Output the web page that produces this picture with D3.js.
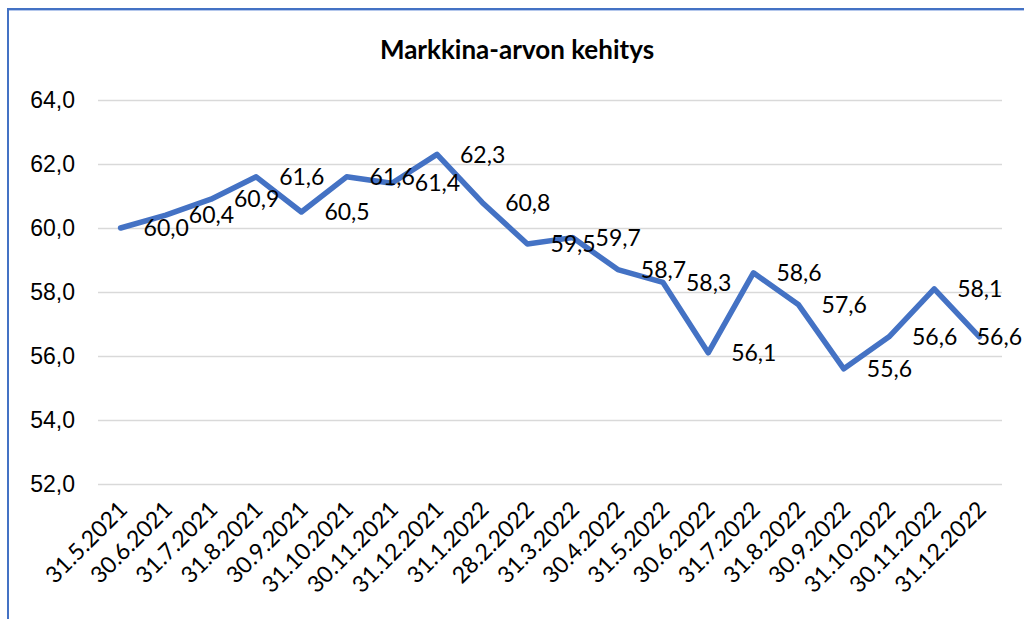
<!DOCTYPE html>
<html>
<head>
<meta charset="utf-8">
<script src="https://cdn.jsdelivr.net/npm/d3@7"></script>
<style>
  body { margin: 0; background: #fff; }
  svg { display: block; font-family: Lato, "Noto Sans", sans-serif; }
</style>
</head>
<body>
<div id="chart"></div>
<script>
    // data
    const dates = ['31.5.2021','30.6.2021','31.7.2021','31.8.2021','30.9.2021','31.10.2021',
      '30.11.2021','31.12.2021','31.1.2022','28.2.2022','31.3.2022','30.4.2022','31.5.2022',
      '30.6.2022','31.7.2022','31.8.2022','30.9.2022','31.10.2022','30.11.2022','31.12.2022'];
    const values = [60.0, 60.4, 60.9, 61.6, 60.5, 61.6, 61.4, 62.3, 60.8, 59.5,
      59.7, 58.7, 58.3, 56.1, 58.6, 57.6, 55.6, 56.6, 58.1, 56.6];
    const yTicks = [52, 54, 56, 58, 60, 62, 64];

    const width = 1024, height = 619;
    const plot = { left: 98, right: 1002, top: 100, bottom: 484 };

    const fi = d3.formatLocale({ decimal: ',', thousands: ' ', grouping: [3], currency: ['', '€'] });
    const fmt = fi.format('.1f');

    const x = d3.scaleBand()
      .domain(dates)
      .range([plot.left, plot.right]);

    const y = d3.scaleLinear()
      .domain([52, 64])
      .range([plot.bottom, plot.top]);

    const svg = d3.select('#chart').append('svg')
      .attr('width', width)
      .attr('height', height);

    // selection frame (top and left edges visible)
    svg.append('line')
      .attr('x1', 7).attr('x2', width).attr('y1', 9).attr('y2', 9)
      .style('stroke', '#4472c4').style('stroke-width', 2);
    svg.append('line')
      .attr('x1', 7).attr('x2', width).attr('y1', 10.5).attr('y2', 10.5)
      .style('stroke', '#b4c7ec').style('stroke-width', 1);
    svg.append('line')
      .attr('x1', 8).attr('x2', 8).attr('y1', 8).attr('y2', height)
      .style('stroke', '#4472c4').style('stroke-width', 2);

    svg.append('text')
      .attr('x', 517).attr('y', 59)
      .attr('text-anchor', 'middle')
      .style('font-weight', 'bold')
      .style('font-size', '26px')
      .style('fill', '#000')
      .text('Markkina-arvon kehitys');

    // gridlines + y labels
    const yAxis = svg.append('g')
      .attr('transform', `translate(${plot.left},0)`)
      .call(d3.axisLeft(y).tickValues(yTicks).tickFormat(fmt)
        .tickSize(-(plot.right - plot.left)).tickPadding(23));
    yAxis.select('.domain').remove();
    yAxis.selectAll('.tick line')
      .style('stroke', '#d9d9d9').style('stroke-width', 1.5);
    yAxis.selectAll('.tick text')
      .style('font-size', '23px').style('fill', '#000').style('font-family', null);

    // x labels
    const xg = svg.append('g');
    xg.selectAll('text')
      .data(dates)
      .enter().append('text')
      .attr('transform', d => `translate(${x(d) + x.bandwidth() / 2 + 8},${plot.bottom + 27}) rotate(-45)`)
      .attr('text-anchor', 'end')
      .style('font-size', '23px')
      .style('fill', '#000')
      .text(d => d);

    const line = d3.line()
      .x((d, i) => x(dates[i]) + x.bandwidth() / 2)
      .y(d => y(d));

    svg.append('path')
      .datum(values)
      .attr('d', line)
      .style('fill', 'none')
      .style('stroke', '#4472c4')
      .style('stroke-width', 5.5)
      .style('stroke-linejoin', 'round')
      .style('stroke-linecap', 'round');

    // data labels, placed to the right of each point
    const labels = svg.append('g').selectAll('text')
      .data(values)
      .enter().append('text')
      .attr('y', d => y(d))
      .attr('dy', '0.36em')
      .style('font-size', '23px')
      .style('fill', '#000')
      .text(d => fmt(d));

    labels.each(function (d, i) {
      const w = this.getComputedTextLength();
      const px = x(dates[i]) + x.bandwidth() / 2 + 23;
      d3.select(this).attr('x', Math.min(px, 1022 - w));
    });
</script>
</body>
</html>
